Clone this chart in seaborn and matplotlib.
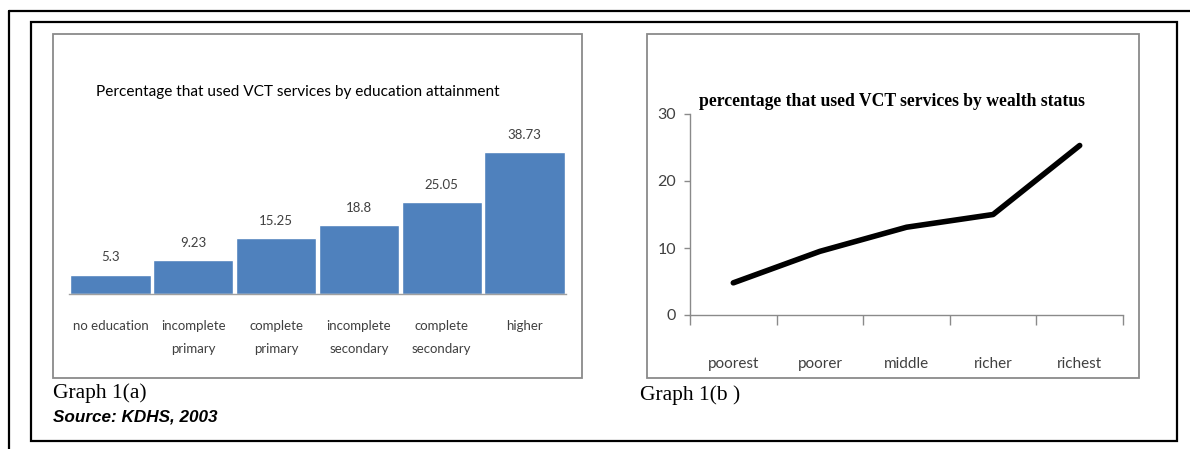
import matplotlib
matplotlib.use("Agg")
import matplotlib.pyplot as plt
from matplotlib.patches import Rectangle
from matplotlib.lines import Line2D
import seaborn as sns
import pandas as pd

# ---- data ----
edu_categories = ["no education", "incomplete\nprimary", "complete\nprimary",
                  "incomplete\nsecondary", "complete\nsecondary", "higher"]
edu_values = [5.3, 9.23, 15.25, 18.8, 25.05, 38.73]
edu_labels = ["5.3", "9.23", "15.25", "18.8", "25.05", "38.73"]

wealth_categories = ["poorest", "poorer", "middle", "richer", "richest"]
wealth_values = [4.8, 9.5, 13.1, 15.0, 25.3]
wealth_yticks = [0, 10, 20, 30]

title_a = "Percentage that used VCT services by education attainment"
title_b = "percentage that used VCT services by wealth status"

sns.set_theme(style="white")
plt.rcParams["font.family"] = ["Lato", "DejaVu Sans"]

W, H = 1190, 449
fig = plt.figure(figsize=(W / 100, H / 100), dpi=100)
fig.patch.set_facecolor("white")


def fx(px):
    return px / W


def fy(py):
    return 1 - py / H


# ---- frames ----
fig.add_artist(Line2D([fx(8.5), fx(8.5)], [fy(11), fy(449)], color="black", lw=1.6))
fig.add_artist(Line2D([fx(8.5), fx(1190)], [fy(11), fy(11)], color="black", lw=1.6))
fig.add_artist(Rectangle((fx(31), fy(441)), fx(1177) - fx(31), fy(22) - fy(441),
                         fill=False, edgecolor="black", lw=1.6))
fig.add_artist(Rectangle((fx(53), fy(378)), fx(582) - fx(53), fy(34) - fy(378),
                         fill=False, edgecolor="#8a8a8a", lw=1.3))
fig.add_artist(Rectangle((fx(647), fy(378)), fx(1139) - fx(647), fy(34) - fy(378),
                         fill=False, edgecolor="#8a8a8a", lw=1.3))

# ---- left: bar chart ----
axa = fig.add_axes([fx(69), fy(294), fx(566) - fx(69), fy(147) - fy(294)])
df_a = pd.DataFrame({"cat": edu_categories, "val": edu_values})
sns.barplot(data=df_a, x="cat", y="val", ax=axa, color="#4F81BD", width=0.97,
            saturation=1)
axa.set_xlim(-0.5, len(edu_categories) - 0.5)
axa.set_ylim(0, 40)
axa.set_xlabel("")
axa.set_ylabel("")
axa.set_yticks([])
for s in ["top", "right", "left"]:
    axa.spines[s].set_visible(False)
axa.spines["bottom"].set_color("#a0a0a0")
axa.spines["bottom"].set_linewidth(1.0)
axa.tick_params(axis="x", length=0, pad=19, labelsize=9.5, labelcolor="#404040")
for lab in axa.get_xticklabels():
    lab.set_linespacing(2.05)
axa.bar_label(axa.containers[0], labels=edu_labels, padding=8, fontsize=9.5,
              color="#404040")
fig.text(fx(298), fy(92), title_a, ha="center", va="center", fontsize=11.1,
         color="black")

# ---- right: line chart ----
axb = fig.add_axes([fx(690), fy(315), fx(1123) - fx(690), fy(114) - fy(315)])
df_b = pd.DataFrame({"cat": wealth_categories, "val": wealth_values})
sns.lineplot(data=df_b, x="cat", y="val", ax=axb, color="black", lw=4.0,
             sort=False)
for ln in axb.lines:
    ln.set_solid_capstyle("round")
    ln.set_solid_joinstyle("round")
axb.set_xlim(-0.5, len(wealth_categories) - 0.5)
axb.set_ylim(0, 30)
axb.set_yticks(wealth_yticks)
axb.set_xlabel("")
axb.set_ylabel("")
axb.set_xticks(range(len(wealth_categories)))
axb.set_xticklabels(wealth_categories)
axb.set_xticks([i - 0.5 for i in range(len(wealth_categories) + 1)], minor=True)
for s in ["top", "right"]:
    axb.spines[s].set_visible(False)
for s in ["left", "bottom"]:
    axb.spines[s].set_color("#8a8a8a")
    axb.spines[s].set_linewidth(1.0)
axb.tick_params(axis="x", which="major", length=0, pad=30, labelsize=11,
                labelcolor="#404040")
axb.tick_params(axis="x", which="minor", bottom=True, length=7, width=1.0,
                color="#8a8a8a", direction="out")
axb.tick_params(axis="y", left=True, length=4, width=1.0, color="#8a8a8a",
                direction="out", pad=6, labelsize=11.5, labelcolor="#404040")
fig.text(fx(892), fy(102), title_b, ha="center", va="center", fontsize=12.7,
         fontweight="bold", family=["Liberation Serif", "DejaVu Serif"],
         color="black")

# ---- captions ----
fig.text(fx(53), fy(393), "Graph 1(a)", ha="left", va="center", fontsize=15.5,
         family=["Liberation Serif", "DejaVu Serif"], color="black")
fig.text(fx(53), fy(417), "Source: KDHS, 2003", ha="left", va="center",
         fontsize=12.3, fontweight="bold", fontstyle="italic",
         family=["Liberation Sans", "DejaVu Sans"], color="black")
fig.text(fx(640), fy(395), "Graph 1(b )", ha="left", va="center", fontsize=15.5,
         family=["Liberation Serif", "DejaVu Serif"], color="black")

fig.savefig("out.png", dpi=100, facecolor="white")
